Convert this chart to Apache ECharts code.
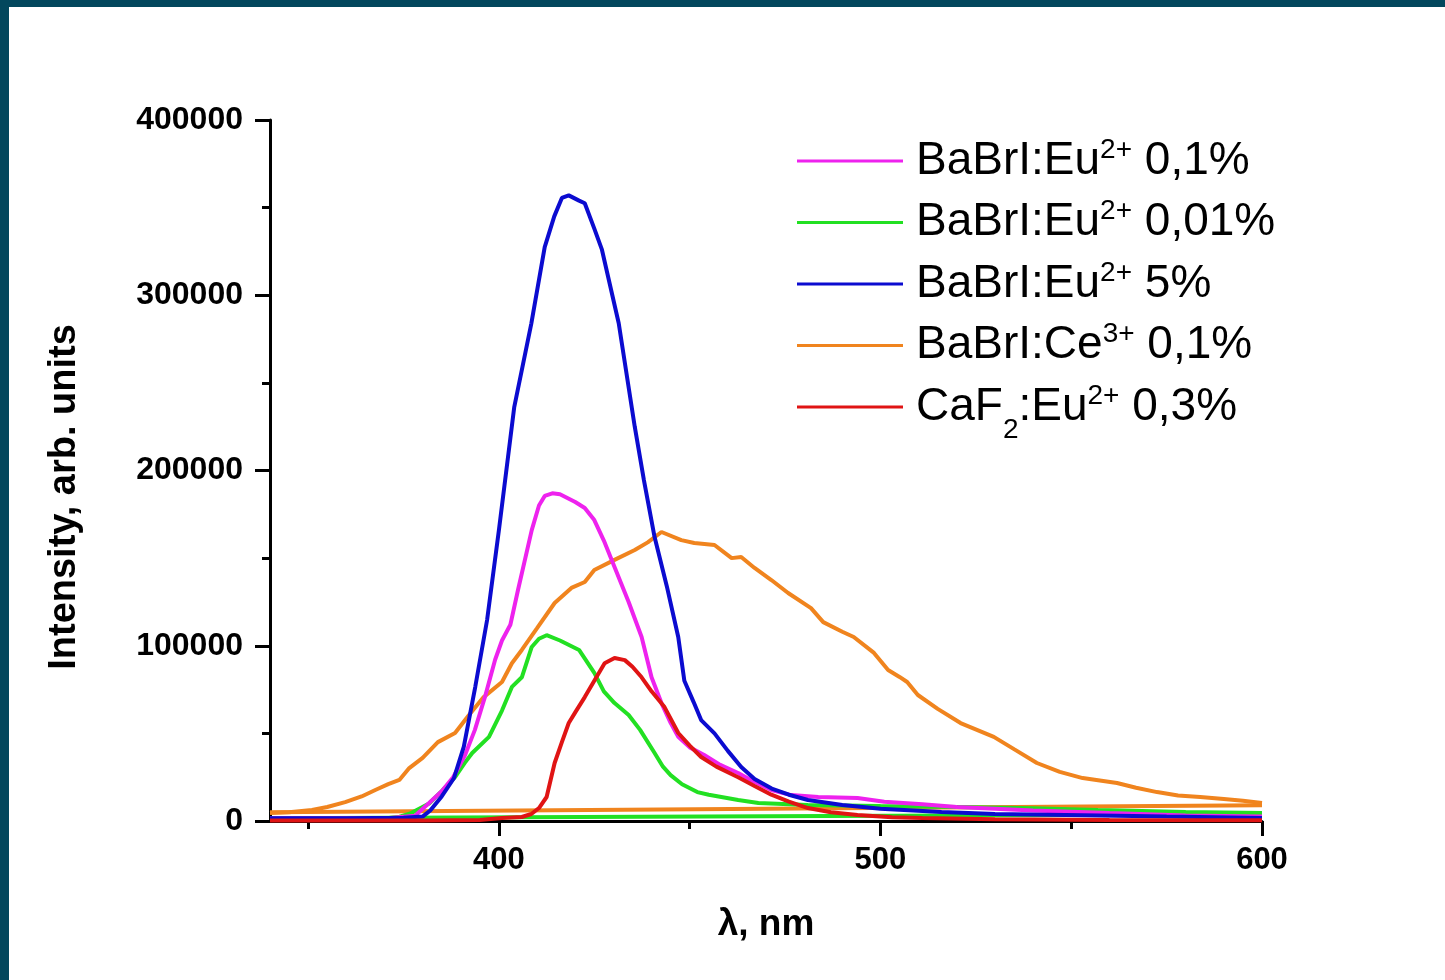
<!DOCTYPE html>
<html>
<head>
<meta charset="utf-8">
<title>Luminescence spectra</title>
<script src="https://cdn.jsdelivr.net/npm/echarts@6/dist/echarts.min.js"></script>
<style>
html, body { margin: 0; padding: 0; background: #fff; }
#chart { width: 1445px; height: 980px; }
</style>
</head>
<body>
<div id="chart"></div>
<script>
// spectra: [wavelength nm, intensity]
var eu01 = [[340,1500],[370,1500],[378,3000],[381.7,10300],[385,17000],[388,25000],[391,37000],[393.7,52000],[396.5,72000],[399,92000],[400.8,103000],[403,112000],[405,131800],[408.6,166000],[410.5,180000],[412,185500],[414,187000],[416,186500],[420,182000],[422.5,178600],[425,171700],[427.5,160000],[430.3,145000],[434,125000],[437.4,105000],[440,82000],[442.6,67300],[445,56000],[447,48000],[450,42000],[453.8,37700],[458,32000],[462.7,27400],[466,23400],[471.4,17700],[476.6,14800],[483.7,13700],[494,13100],[501,11000],[511,9500],[520,8000],[540,6000],[560,4500],[580,3200],[600,2500]];
var eu001 = [[340,1000],[370,1500],[374,2500],[377,4500],[381.7,10000],[385,17000],[388.5,25000],[391,33000],[393,38800],[397.4,48000],[400.8,63000],[403.4,76500],[406,82000],[408.6,99300],[410.5,104000],[412.5,106000],[416,103000],[421,97600],[425,84500],[427.5,74000],[430.3,67300],[434,60500],[437,52000],[440.8,38800],[443,31000],[445,26200],[448,21000],[452,16500],[455,15000],[462.7,12000],[468,10300],[481,9100],[500,8500],[520,8000],[540,7300],[557,6300],[580,5200],[600,4500]];
var eu5 = [[340,1500],[360,1500],[375,1800],[380,2500],[382,6000],[385,14000],[388.2,24400],[390.8,42400],[393.8,76600],[396.9,114700],[400,166000],[404,236000],[408.5,284000],[412,327500],[414.5,345000],[416.5,355500],[418.3,357000],[421,354000],[422.5,352500],[425,338000],[427,326000],[431.4,284000],[435.6,225000],[438,194500],[440.8,162000],[444,134000],[447,105000],[448.6,80000],[451,68000],[453,57600],[456.5,50000],[460,40000],[463.5,30800],[467,24000],[471.5,18500],[476,15000],[481,12000],[490,9100],[500,7000],[516,5100],[530,4000],[553,3300],[575,2500],[600,1700]];
var ce01 = [[340,4500],[345,5000],[351,6300],[355,8000],[359.7,10800],[364,14000],[367.6,17700],[371,21000],[373.9,23400],[376.5,30200],[380,36000],[384,45000],[388.5,50200],[392,60000],[396,70700],[400.8,79300],[403.4,90000],[406,97600],[410,110000],[414.6,124400],[419,133000],[422.5,136400],[425,143200],[430.3,149000],[435.6,154600],[439,159000],[442.6,164900],[447.8,160300],[451.2,158600],[456.5,157500],[461,150000],[463.5,150600],[467,144400],[471.4,137500],[475.8,130100],[481.8,121500],[485,113500],[490,108000],[493,105000],[498.3,95900],[502,86200],[505,82200],[507,79300],[509.8,71900],[515,64000],[521,55900],[529.7,48000],[535,41000],[541,33100],[547,28000],[553,24500],[562,21700],[567,19000],[572.5,16500],[578,14500],[583.8,13700],[590,12500],[595,11500],[600,10300]];
var caf2 = [[340,300],[380,300],[395,600],[400.8,1700],[406,2300],[408.5,4000],[410.5,7400],[412.5,13700],[414.6,33100],[416.5,45000],[418.3,55900],[420,62000],[422.5,70700],[425,80000],[427.7,90000],[430.3,93000],[433,91800],[435,88000],[437.4,82000],[440,74000],[443.4,65000],[447,50200],[450,43000],[453,36500],[457,31000],[462.7,25000],[467,20000],[471.4,15000],[476,11000],[481,7400],[487,5000],[494,3400],[503,2200],[511,1700],[530,1000],[560,600],[600,400]];
// straight background lines that run under the curves
var ceBase = [[340,5000],[600,9000]];
var eu001Base = [[340,1500],[600,3800]];

var names = ['eu01', 'eu001', 'eu5', 'ce01', 'caf2'];
var labels = {
    eu01: '{sp|}{t|BaBrI:Eu}{sup|2+}{t| 0,1%}',
    eu001: '{sp|}{t|BaBrI:Eu}{sup|2+}{t| 0,01%}',
    eu5: '{sp|}{t|BaBrI:Eu}{sup|2+}{t| 5%}',
    ce01: '{sp|}{t|BaBrI:Ce}{sup|3+}{t| 0,1%}',
    caf2: '{sp|}{t|CaF}{sub|2}{t|:Eu}{sup|2+}{t| 0,3%}'
};
var colors = { eu01: '#ee22ee', eu001: '#22e022', eu5: '#0b0bd0', ce01: '#f0841e', caf2: '#e01414' };
var xMajor = [400, 500, 600];
var xMinor = [350, 450, 550];

var font = 'Liberation Sans, Arial, sans-serif';
var chart = echarts.init(document.getElementById('chart'));

function line(name, data, color, z) {
    return {
        name: name, type: 'line', data: data, showSymbol: false, symbol: 'none',
        xAxisIndex: 0, z: z, animation: false,
        lineStyle: { color: color, width: 4 }, itemStyle: { color: color }
    };
}

chart.setOption({
    backgroundColor: '#fff',
    textStyle: { fontFamily: font },
    graphic: [
        { type: 'rect', shape: { x: 0, y: 0, width: 1445, height: 7 }, style: { fill: '#03475d' } },
        { type: 'rect', shape: { x: 0, y: 0, width: 9, height: 980 }, style: { fill: '#03475d' } },
        {
            type: 'text', x: 65, y: 497, rotation: Math.PI / 2,
            style: {
                text: 'Intensity, arb. units', fill: '#000', font: 'bold 38px ' + font,
                align: 'center', verticalAlign: 'middle'
            }
        }
    ],
    grid: { left: 270, right: 183, top: 120, bottom: 159 },
    legend: {
        data: names,
        orient: 'vertical',
        left: 797, top: 136,
        padding: 0,
        itemGap: 13.5,
        icon: 'rect',
        itemWidth: 106, itemHeight: 3,
        formatter: function (n) { return labels[n]; },
        textStyle: {
            color: '#000', fontFamily: font,
            rich: {
                sp: { width: 8 },
                t: { fontSize: 46, lineHeight: 50, fontFamily: font, color: '#000' },
                sup: { fontSize: 28, lineHeight: 28, verticalAlign: 'top', fontFamily: font, color: '#000' },
                sub: { fontSize: 28, lineHeight: 28, verticalAlign: 'bottom', fontFamily: font, color: '#000', padding: [0, 0, -12, 0] }
            }
        }
    },
    xAxis: [{
        type: 'value', min: 340, max: 600,
        name: 'λ, nm', nameLocation: 'middle', nameGap: 85,
        nameTextStyle: { fontSize: 37, fontWeight: 'bold', color: '#000', fontFamily: font },
        axisLine: { onZero: false, lineStyle: { color: '#000', width: 3 } },
        axisTick: { customValues: xMajor, length: 15, lineStyle: { color: '#000', width: 3 } },
        axisLabel: { customValues: xMajor, margin: 24, fontSize: 31, fontWeight: 'bold', color: '#000', fontFamily: font },
        splitLine: { show: false }
    }, {
        type: 'value', min: 340, max: 600, position: 'bottom',
        axisLine: { show: false },
        axisTick: { customValues: xMinor, length: 8, lineStyle: { color: '#000', width: 3 } },
        axisLabel: { show: false },
        splitLine: { show: false }
    }],
    yAxis: {
        type: 'value', min: 0, max: 400000, interval: 100000,
        axisLine: { show: true, lineStyle: { color: '#000', width: 3 } },
        axisTick: { show: true, length: 15, lineStyle: { color: '#000', width: 3 } },
        minorTick: { show: true, splitNumber: 2, length: 8, lineStyle: { color: '#000', width: 3 } },
        axisLabel: {
            margin: 27, fontSize: 32, fontWeight: 'bold', color: '#000', fontFamily: font,
            formatter: function (v) { return String(v); }
        },
        splitLine: { show: false }
    },
    series: [
        line('ceBase', ceBase, colors.ce01, 2),
        line('eu001Base', eu001Base, colors.eu001, 2),
        line('ce01', ce01, colors.ce01, 3),
        line('eu001', eu001, colors.eu001, 4),
        line('eu01', eu01, colors.eu01, 5),
        line('eu5', eu5, colors.eu5, 6),
        line('caf2', caf2, colors.caf2, 7)
    ]
});
</script>
</body>
</html>
